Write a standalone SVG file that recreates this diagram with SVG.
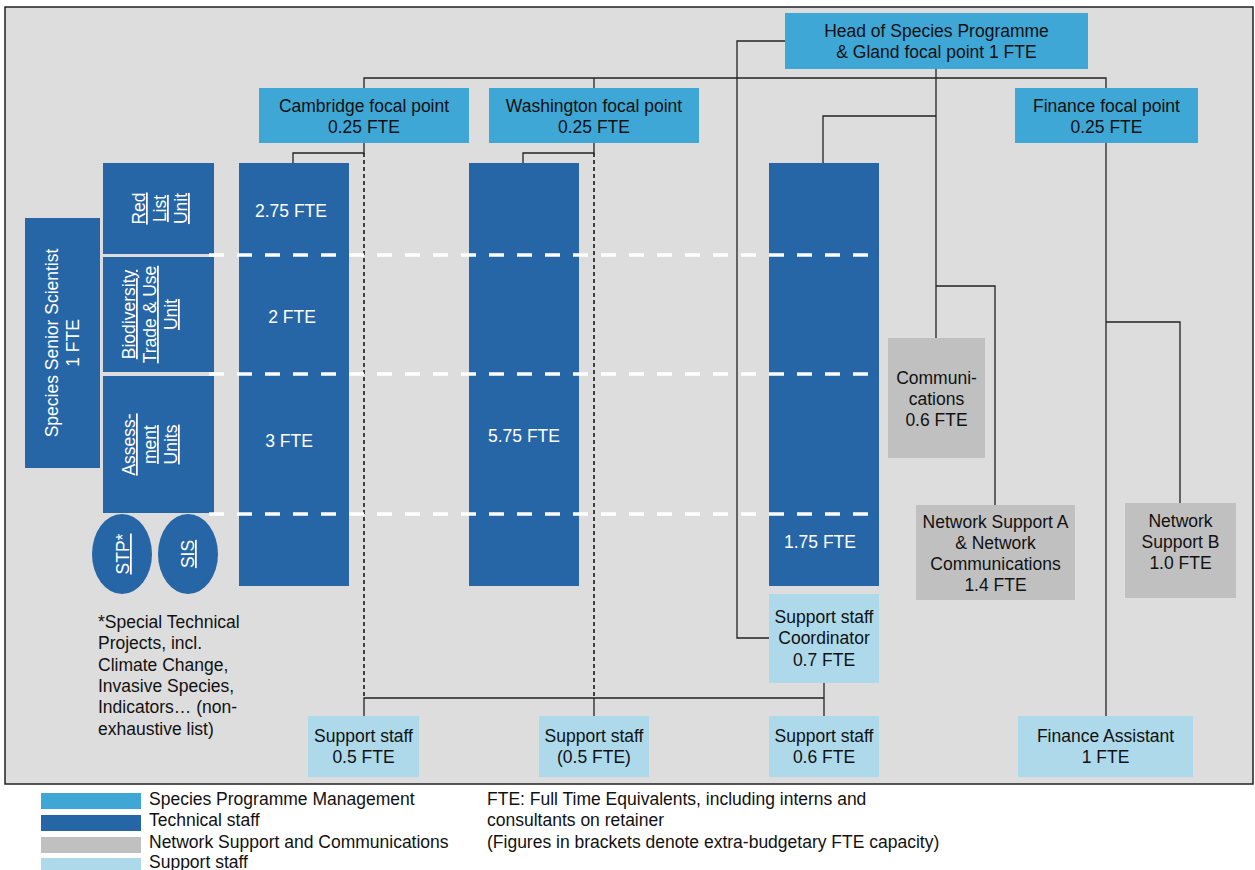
<svg xmlns="http://www.w3.org/2000/svg" width="1255" height="870" viewBox="0 0 1255 870">
  <style>
    text { font-family: "Liberation Sans", Arial, sans-serif; font-size: 17.5px; fill: #111; }
    .c { text-anchor: middle; }
    .w { fill: #ffffff; }
    .u { text-decoration: underline; }
    .mgmt { fill: #3EA7D6; }
    .tech { fill: #2766A6; }
    .net { fill: #C0C0C0; }
    .sup { fill: #ADD9EB; }
    .ln { fill: none; stroke: #222; stroke-width: 1.3; }
    .dot { fill: none; stroke: #1a1a1a; stroke-width: 1.6; stroke-dasharray: 4 3; }
    .band { fill: none; stroke: #ffffff; stroke-width: 3.5; stroke-dasharray: 15 13; }
  </style>

  <!-- panel -->
  <rect x="5" y="7" width="1248" height="777" fill="#DDDDDD" stroke="#222" stroke-width="1.5"/>

  <!-- connectors -->
  <g id="connectors">
    <polyline class="ln" points="364,88 364,78 1106,78 1106,88"/>
    <line class="ln" x1="594" y1="78" x2="594" y2="88"/>
    <polyline class="ln" points="785,41 737,41 737,638 769,638"/>
    <line class="ln" x1="936" y1="69" x2="936" y2="338"/>
    <polyline class="ln" points="936,116 823,116 823,163"/>
    <polyline class="ln" points="936,286 995,286 995,505"/>
    <line class="ln" x1="1106" y1="143" x2="1106" y2="716"/>
    <polyline class="ln" points="1106,322 1180,322 1180,503"/>
    <polyline class="ln" points="364,143 364,153 293,153 293,163"/>
    <polyline class="ln" points="594,143 594,153 523,153 523,163"/>
    <line class="dot" x1="364" y1="153" x2="364" y2="698"/>
    <line class="dot" x1="594" y1="153" x2="594" y2="698"/>
    <polyline class="ln" points="364,716 364,698 824,698"/>
    <line class="ln" x1="594" y1="698" x2="594" y2="716"/>
    <line class="ln" x1="824" y1="683" x2="824" y2="716"/>
  </g>

  <!-- management -->
  <g id="head">
    <rect class="mgmt" x="785" y="13" width="303" height="56"/>
    <text class="c" x="936.5" y="37">Head of Species Programme</text>
    <text class="c" x="936.5" y="58">&amp; Gland focal point 1 FTE</text>
  </g>
  <g id="cambridge">
    <rect class="mgmt" x="259" y="88" width="210" height="55"/>
    <text class="c" x="364" y="112">Cambridge focal point</text>
    <text class="c" x="364" y="133">0.25 FTE</text>
  </g>
  <g id="washington">
    <rect class="mgmt" x="489" y="88" width="210" height="55"/>
    <text class="c" x="594" y="112">Washington focal point</text>
    <text class="c" x="594" y="133">0.25 FTE</text>
  </g>
  <g id="finance">
    <rect class="mgmt" x="1015" y="88" width="183" height="55"/>
    <text class="c" x="1106.5" y="112">Finance focal point</text>
    <text class="c" x="1106.5" y="133">0.25 FTE</text>
  </g>

  <!-- technical staff -->
  <g id="senior-scientist">
    <rect class="tech" x="25" y="218" width="75" height="250"/>
    <g transform="translate(62,343) rotate(-90)">
      <text class="c w" x="0" y="-4">Species Senior Scientist</text>
      <text class="c w" x="0" y="17">1 FTE</text>
    </g>
  </g>
  <g id="red-list">
    <rect class="tech" x="103" y="163" width="111" height="91"/>
    <g transform="translate(159,208.5) rotate(-90)">
      <text class="c w u" x="0" y="-14">Red</text>
      <text class="c w u" x="0" y="7">List</text>
      <text class="c w u" x="0" y="28">Unit</text>
    </g>
  </g>
  <g id="trade">
    <rect class="tech" x="103" y="257" width="111" height="115"/>
    <g transform="translate(159,314.5) rotate(-90)">
      <text class="c w u" x="0" y="-24">Biodiversity</text>
      <text class="c w u" x="0" y="-3">Trade &amp; Use</text>
      <text class="c w u" x="0" y="18">Unit</text>
    </g>
  </g>
  <g id="assessment">
    <rect class="tech" x="103" y="376" width="111" height="137"/>
    <g transform="translate(159,444.5) rotate(-90)">
      <text class="c w u" x="0" y="-24">Assess-</text>
      <text class="c w u" x="0" y="-3">ment</text>
      <text class="c w u" x="0" y="18">Units</text>
    </g>
  </g>
  <g id="stp">
    <ellipse class="tech" cx="122" cy="554" rx="30" ry="40"/>
    <text class="c w u" transform="translate(129,554) rotate(-90)">STP*</text>
  </g>
  <g id="sis">
    <ellipse class="tech" cx="188" cy="554" rx="30" ry="40"/>
    <text class="c w u" transform="translate(194,554) rotate(-90)">SIS</text>
  </g>
  <g id="cambridge-tech">
    <rect class="tech" x="239" y="163" width="110" height="423"/>
    <text class="c w" x="291" y="217">2.75 FTE</text>
    <text class="c w" x="292" y="323">2 FTE</text>
    <text class="c w" x="289" y="447">3 FTE</text>
  </g>
  <g id="washington-tech">
    <rect class="tech" x="469" y="163" width="110" height="423"/>
    <text class="c w" x="524" y="442">5.75 FTE</text>
  </g>
  <g id="gland-tech">
    <rect class="tech" x="769" y="163" width="110" height="423"/>
    <text class="c w" x="820" y="548">1.75 FTE</text>
  </g>

  <!-- unit bands -->
  <g id="bands">
    <line class="band" x1="209" y1="255" x2="879" y2="255"/>
    <line class="band" x1="209" y1="374" x2="879" y2="374"/>
    <line class="band" x1="209" y1="514" x2="879" y2="514"/>
  </g>

  <!-- network support and communications -->
  <g id="communications">
    <rect class="net" x="888" y="338" width="97" height="120"/>
    <text class="c" x="936.5" y="384">Communi-</text>
    <text class="c" x="936.5" y="405">cations</text>
    <text class="c" x="936.5" y="426">0.6 FTE</text>
  </g>
  <g id="network-a">
    <rect class="net" x="916" y="505" width="159" height="95"/>
    <text class="c" x="995.5" y="528">Network Support A</text>
    <text class="c" x="995.5" y="549">&amp; Network</text>
    <text class="c" x="995.5" y="570">Communications</text>
    <text class="c" x="995.5" y="591">1.4 FTE</text>
  </g>
  <g id="network-b">
    <rect class="net" x="1125" y="503" width="111" height="95"/>
    <text class="c" x="1180.5" y="527">Network</text>
    <text class="c" x="1180.5" y="548">Support B</text>
    <text class="c" x="1180.5" y="569">1.0 FTE</text>
  </g>

  <!-- support staff -->
  <g id="coordinator">
    <rect class="sup" x="769" y="594" width="110" height="89"/>
    <text class="c" x="824" y="623">Support staff</text>
    <text class="c" x="824" y="644">Coordinator</text>
    <text class="c" x="824" y="666">0.7 FTE</text>
  </g>
  <g id="support-cambridge">
    <rect class="sup" x="308" y="716" width="111" height="61"/>
    <text class="c" x="363.5" y="742">Support staff</text>
    <text class="c" x="363.5" y="763">0.5 FTE</text>
  </g>
  <g id="support-washington">
    <rect class="sup" x="539" y="716" width="110" height="61"/>
    <text class="c" x="594" y="742">Support staff</text>
    <text class="c" x="594" y="763">(0.5 FTE)</text>
  </g>
  <g id="support-gland">
    <rect class="sup" x="769" y="716" width="110" height="61"/>
    <text class="c" x="824" y="742">Support staff</text>
    <text class="c" x="824" y="763">0.6 FTE</text>
  </g>
  <g id="finance-assistant">
    <rect class="sup" x="1018" y="716" width="175" height="61"/>
    <text class="c" x="1105.5" y="742">Finance Assistant</text>
    <text class="c" x="1105.5" y="763">1 FTE</text>
  </g>

  <!-- footnote -->
  <g id="footnote">
    <text x="98" y="628">*Special Technical</text>
    <text x="98" y="649">Projects, incl.</text>
    <text x="98" y="671">Climate Change,</text>
    <text x="98" y="692">Invasive Species,</text>
    <text x="98" y="713">Indicators… (non-</text>
    <text x="98" y="735">exhaustive list)</text>
  </g>

  <!-- legend -->
  <g id="legend">
    <rect class="mgmt" x="41" y="793" width="100" height="16"/>
    <rect class="tech" x="41" y="815" width="100" height="16"/>
    <rect class="net" x="41" y="837" width="100" height="16"/>
    <rect class="sup" x="41" y="858" width="100" height="16"/>
    <text x="149" y="805">Species Programme Management</text>
    <text x="149" y="826">Technical staff</text>
    <text x="149" y="848">Network Support and Communications</text>
    <text x="149" y="868">Support staff</text>
    <text x="487" y="805">FTE: Full Time Equivalents, including interns and</text>
    <text x="487" y="826">consultants on retainer</text>
    <text x="487" y="848">(Figures in brackets denote extra-budgetary FTE capacity)</text>
  </g>
</svg>
